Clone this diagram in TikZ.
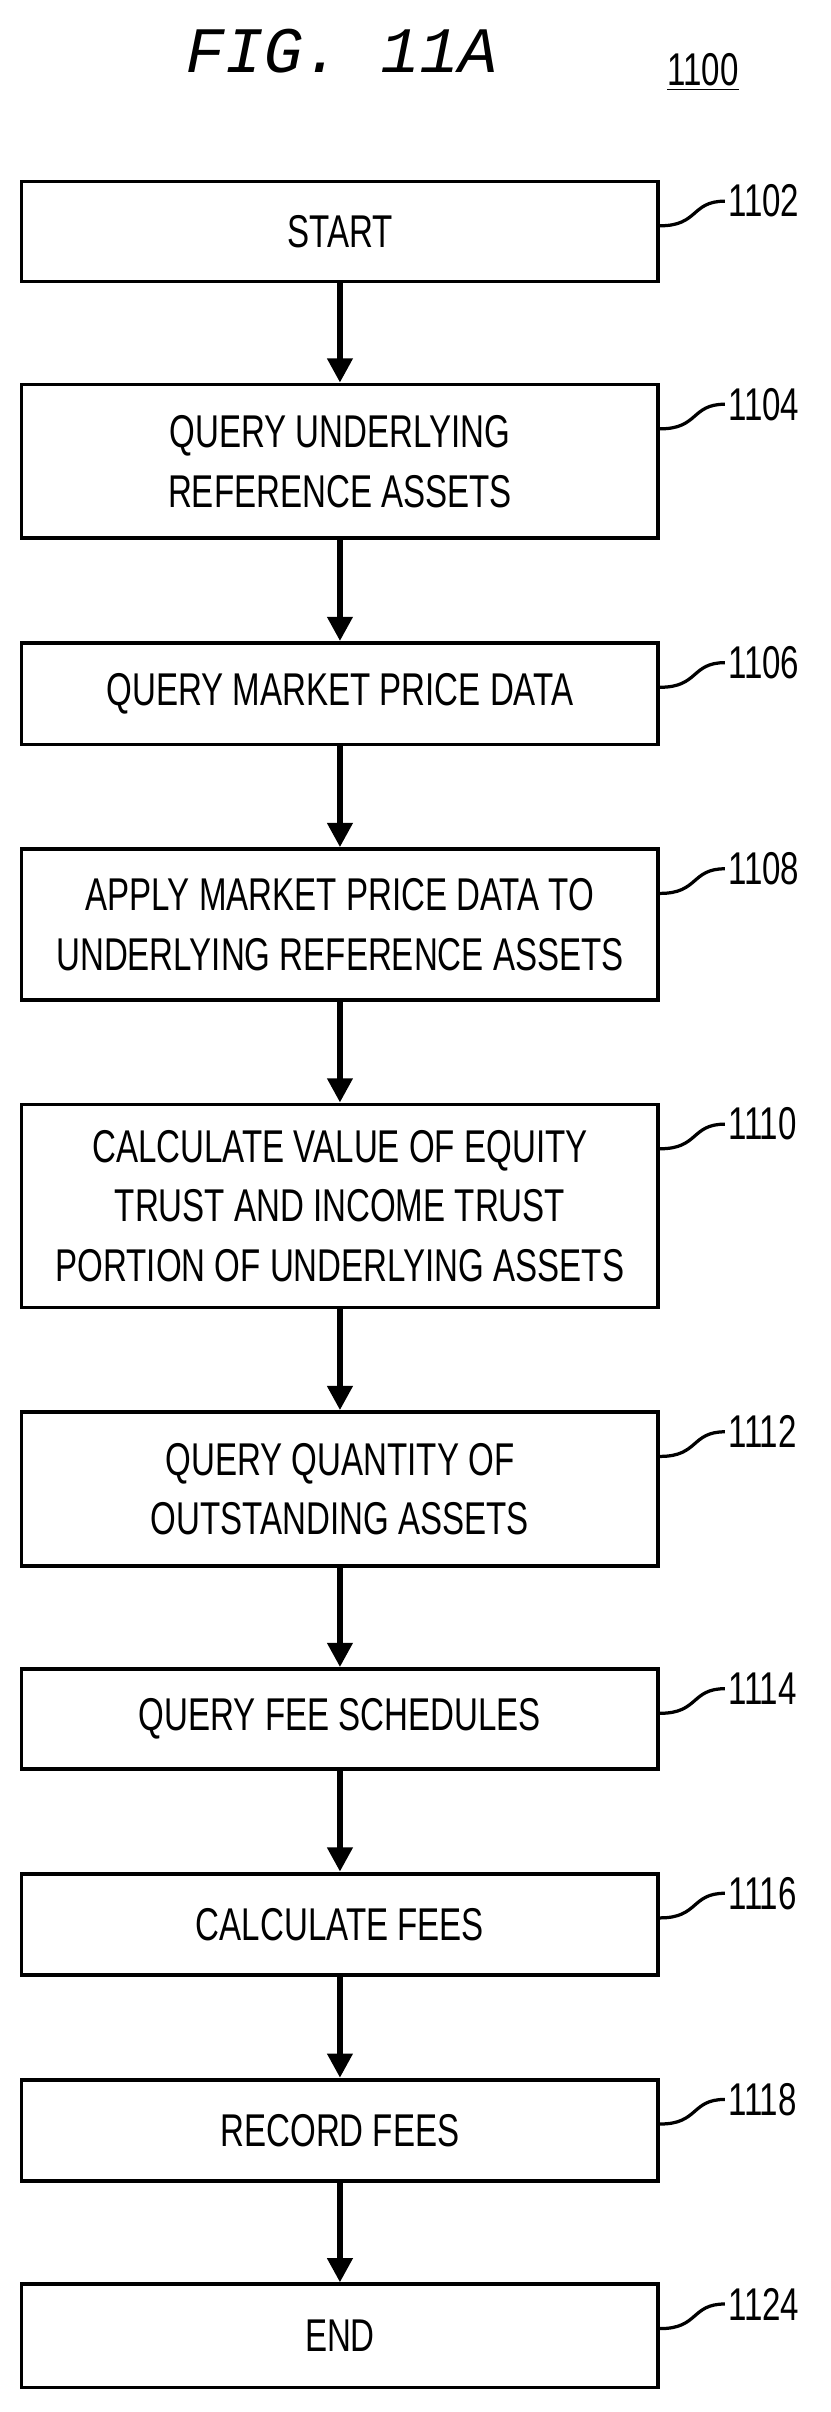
\documentclass[tikz,border=0pt]{standalone}
\usepackage{fontspec}
\setmainfont[FakeStretch=0.72]{Liberation Sans}
\newfontfamily\figfont[FakeSlant=0.2]{Liberation Mono}
\usetikzlibrary{positioning, calc, arrows.meta}
\begin{document}
\begin{tikzpicture}[x=0.02cm, y=-0.02cm,
                    stepbox/.style={draw,
                                    line width=1.4pt,
                                    minimum width=8.28cm,
                                    align=center,
                                    inner sep=0pt,
                                    font=\fontsize{17}{22}\selectfont},
                    flow/.style={-{Triangle[length=9pt,width=9pt]},
                                 line width=2.4pt},
                    lead/.style={line width=1.2pt},
                    reflabel/.style={anchor=west,
                                     inner sep=1pt,
                                     font=\fontsize{17}{20}\selectfont}]
	\useasboundingbox (0,0) rectangle (540,1568);
	\node[font=\figfont\fontsize{24}{26}\selectfont] (Title) at (220,33) {FIG. 11A};
	\node[font=\fontsize{17}{20}\selectfont] (Num) at (457,47) {\underline{1100}};

	\node[stepbox, minimum height=1.30cm] (Start) at (221,150.5) {START};
	\node[stepbox, minimum height=2.00cm] (QueryRef) at (221,300) {QUERY UNDERLYING\\REFERENCE ASSETS};
	\node[stepbox, minimum height=1.32cm] (QueryPrice) at (221,451) {QUERY MARKET PRICE DATA};
	\node[stepbox, minimum height=1.96cm] (Apply) at (221,601) {APPLY MARKET PRICE DATA TO\\UNDERLYING REFERENCE ASSETS};
	\node[stepbox, minimum height=2.64cm] (CalcValue) at (221,784) {CALCULATE VALUE OF EQUITY\\TRUST AND INCOME TRUST\\PORTION OF UNDERLYING ASSETS};
	\node[stepbox, minimum height=2.00cm] (QueryQty) at (221,968) {QUERY QUANTITY OF\\OUTSTANDING ASSETS};
	\node[stepbox, minimum height=1.30cm] (QueryFee) at (221,1117.5) {QUERY FEE SCHEDULES};
	\node[stepbox, minimum height=1.32cm] (CalcFee) at (221,1251) {CALCULATE FEES};
	\node[stepbox, minimum height=1.32cm] (Record) at (221,1385) {RECORD FEES};
	\node[stepbox, minimum height=1.34cm] (End) at (221,1518.5) {END};

	% arrows down the chain
	\foreach \a/\b in {Start/QueryRef, QueryRef/QueryPrice, QueryPrice/Apply, Apply/CalcValue,
	                   CalcValue/QueryQty, QueryQty/QueryFee, QueryFee/CalcFee, CalcFee/Record, Record/End}
		\draw[flow] (\a.south) -- (\b.north);

	% reference numerals
	\foreach \b/\n in {Start/1102, QueryRef/1104, QueryPrice/1106, Apply/1108, CalcValue/1110,
	                   QueryQty/1112, QueryFee/1114, CalcFee/1116, Record/1118, End/1124} {
		\node[reflabel] (L\n) at ($(\b.north east)+(42,14)$) {\n};
		\draw[lead] ($(\b.north east)+(0,30)$) .. controls +(25,0) and +(-22,0) .. (L\n.west);
	}
\end{tikzpicture}
\end{document}
